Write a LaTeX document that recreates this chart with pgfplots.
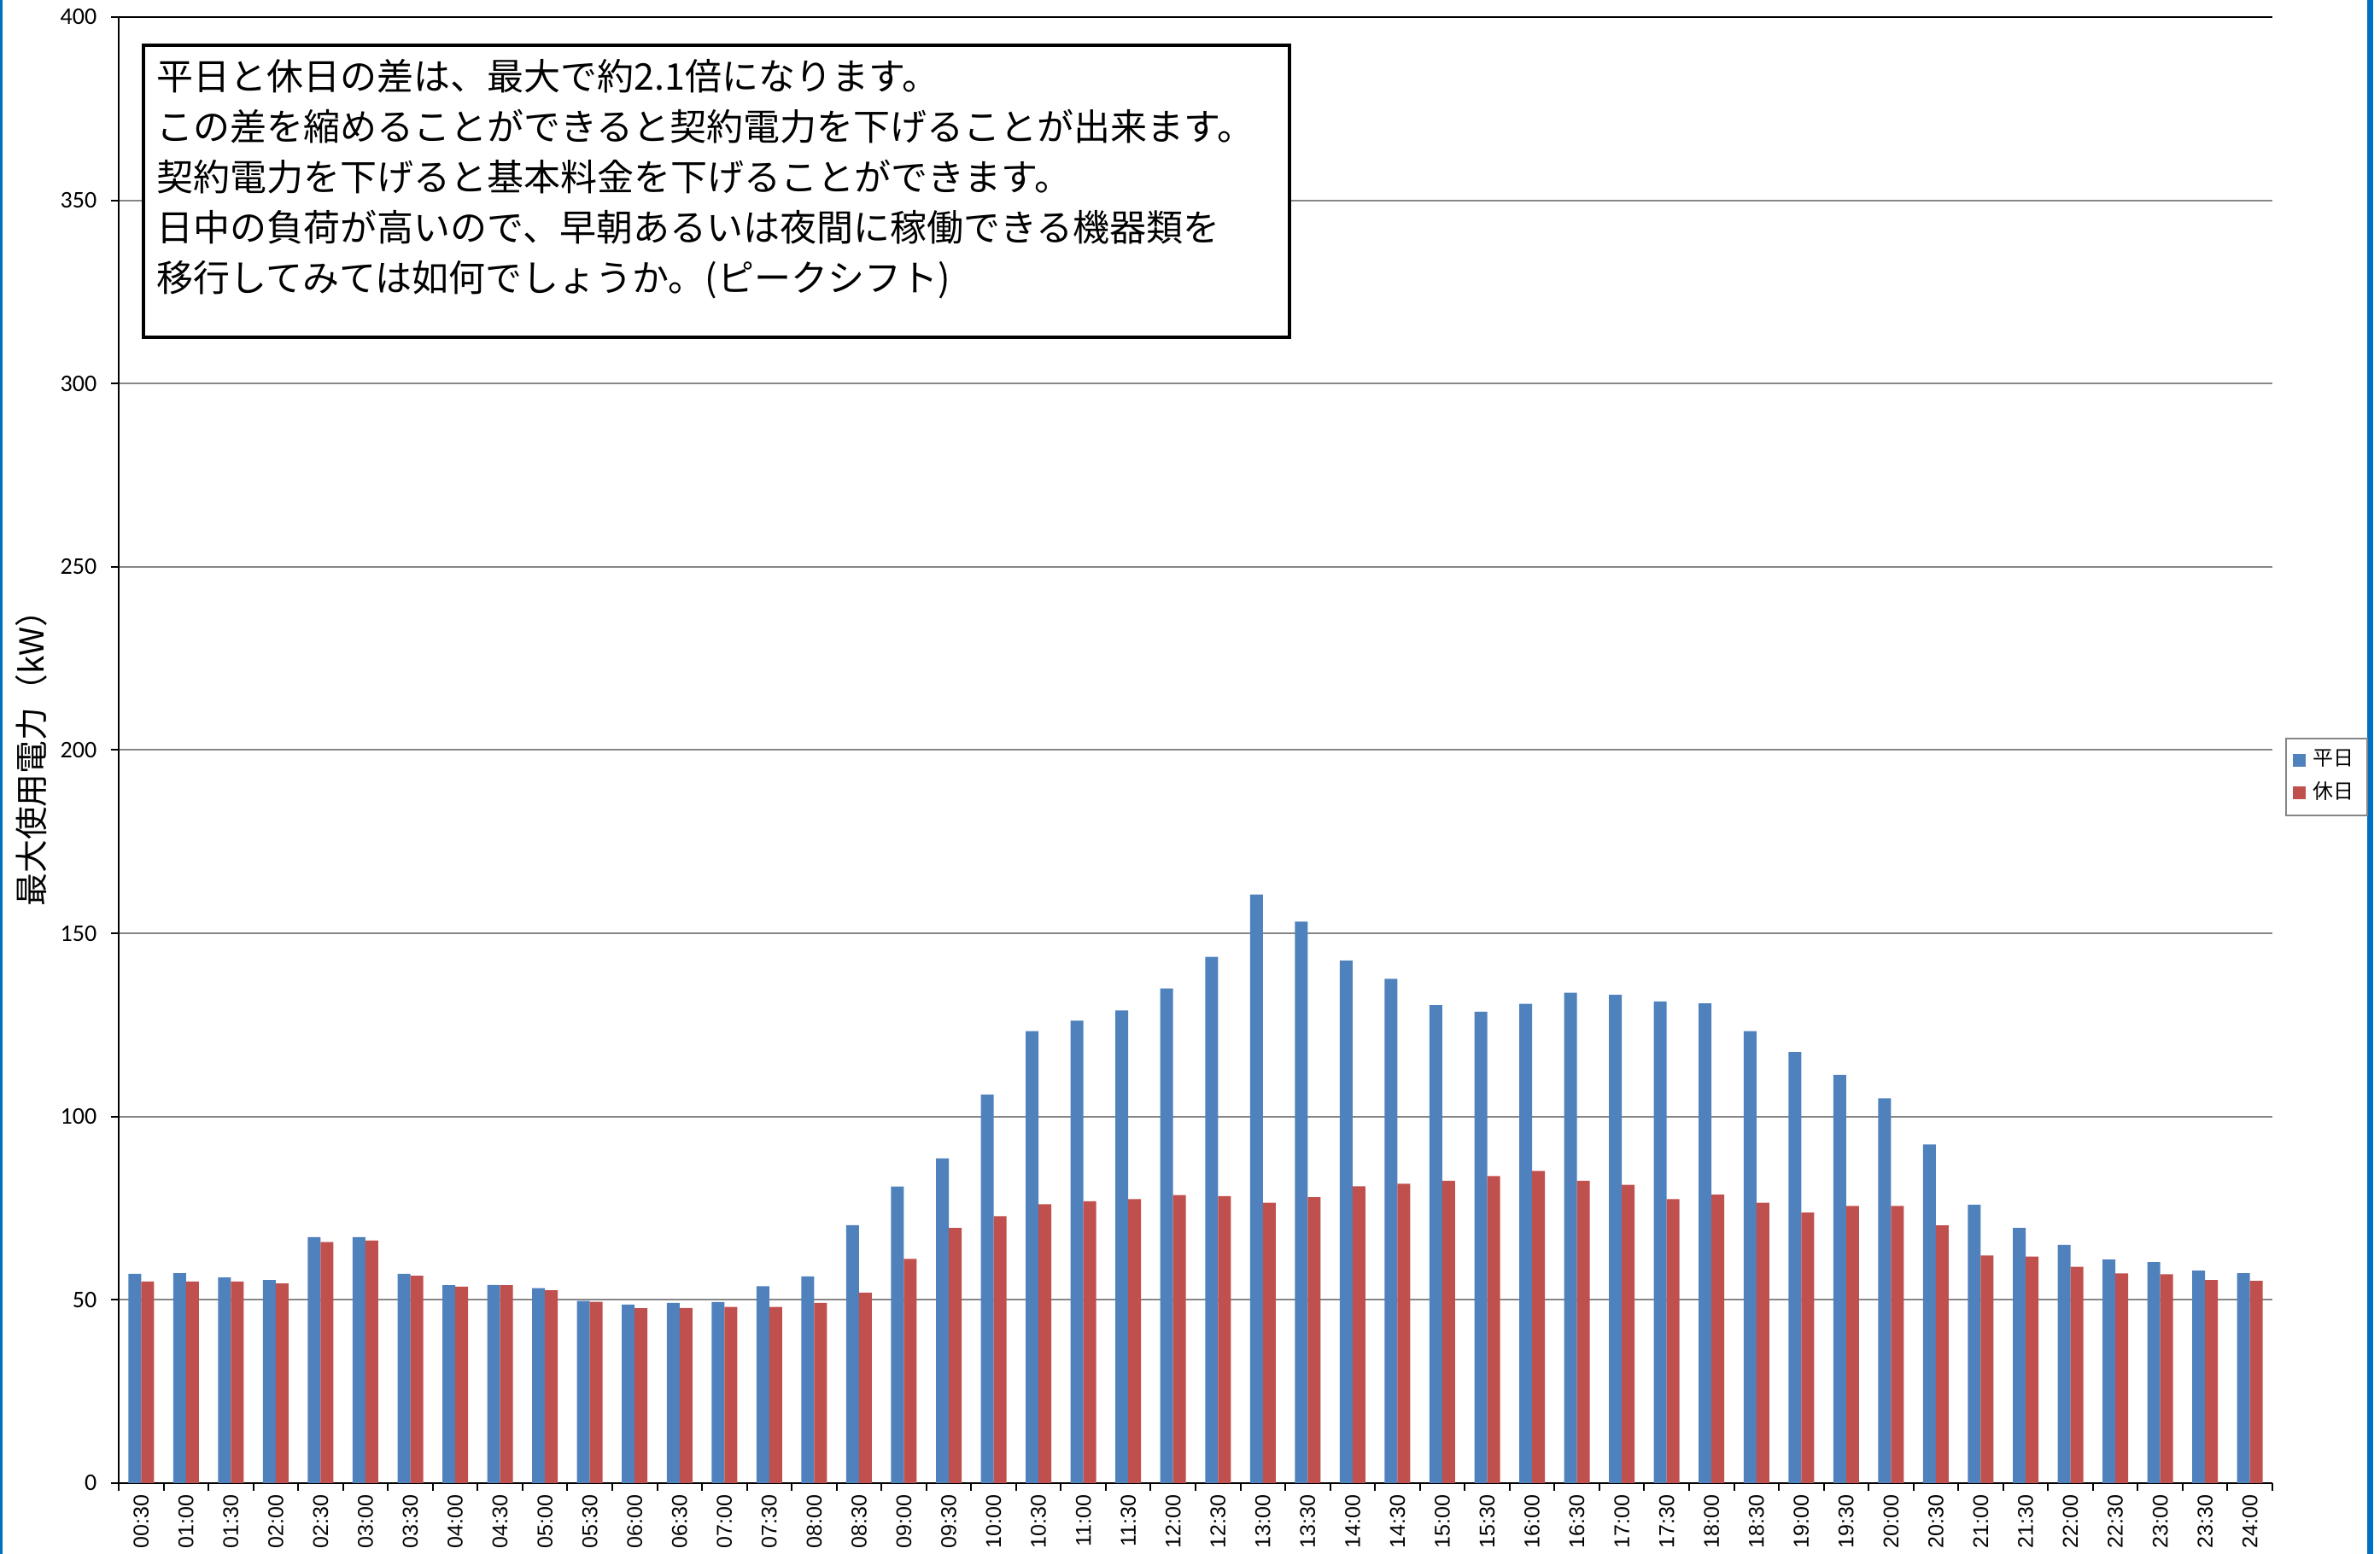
\documentclass[border=0pt]{standalone}
\usepackage{fontspec}
\setmainfont{Liberation Sans}
\newfontfamily\jp{Noto Sans CJK JP}
\newfontfamily\carlito{Carlito}
\usepackage{pgfplots}
\pgfplotsset{compat=1.18}
\usepackage{pgfplotstable}

\definecolor{xlblue}{HTML}{4F81BD}
\definecolor{xlred}{HTML}{C0504D}
\definecolor{gridgray}{HTML}{868686}
\definecolor{frameblue}{RGB}{0,112,192}

% 30-minute maximum demand, weekday / holiday (kW)
\pgfplotstableread{
idx heijitsu kyujitsu
0  57.1 55.0
1  57.3 55.0
2  56.1 55.0
3  55.4 54.5
4  67.1 65.8
5  67.1 66.2
6  57.1 56.6
7  54.0 53.6
8  54.1 54.0
9  53.2 52.6
10 49.7 49.5
11 48.7 47.7
12 49.2 47.8
13 49.4 48.1
14 53.7 48.1
15 56.4 49.2
16 70.4 52.0
17 80.9 61.2
18 88.6 69.6
19 106.0 72.8
20 123.3 76.1
21 126.2 76.9
22 129.0 77.5
23 135.0 78.6
24 143.6 78.3
25 160.6 76.5
26 153.2 78.0
27 142.6 81.0
28 137.6 81.7
29 130.4 82.5
30 128.6 83.8
31 130.8 85.2
32 133.8 82.5
33 133.2 81.4
34 131.4 77.5
35 130.9 78.7
36 123.3 76.5
37 117.6 73.8
38 111.4 75.6
39 105.0 75.6
40 92.4 70.3
41 76.0 62.1
42 69.6 61.8
43 65.0 59.0
44 61.0 57.2
45 60.3 57.0
46 58.0 55.4
47 57.3 55.2
}\loaddata

\begin{document}
\begin{tikzpicture}
\path[use as bounding box] (0,0) rectangle (696.75pt,455pt);
\fill[frameblue] (0,0) rectangle (0.75pt,455pt);
\fill[frameblue] (693pt,0) rectangle (694.75pt,455pt);

\begin{axis}[
  at={(34.75pt,20.75pt)}, anchor=south west,
  scale only axis, width=630.5pt, height=429.25pt,
  ybar=0pt, bar width=0.2855,
  xmin=-0.5, xmax=47.5, ymin=0, ymax=400,
  xtick={-0.5,0.5,...,47.5}, x tick label as interval,
  xticklabels={00:30,01:00,01:30,02:00,02:30,03:00,03:30,04:00,04:30,05:00,05:30,06:00,
    06:30,07:00,07:30,08:00,08:30,09:00,09:30,10:00,10:30,11:00,11:30,12:00,
    12:30,13:00,13:30,14:00,14:30,15:00,15:30,16:00,16:30,17:00,17:30,18:00,
    18:30,19:00,19:30,20:00,20:30,21:00,21:30,22:00,22:30,23:00,23:30,24:00},
  ytick={0,50,...,400},
  extra y ticks={400}, extra y tick labels={},
  extra y tick style={grid style={black, line width=0.5pt}},
  axis x line*=bottom, axis y line*=left,
  axis line style={black, line width=0.5pt},
  tick align=outside, major tick length=2.25pt,
  tick style={black, line width=0.5pt},
  ymajorgrids, grid style={gridgray, line width=0.5pt},
  xticklabel style={font=\fontsize{6.25}{7}\selectfont, rotate=90, anchor=east,
    inner ysep=0pt, inner xsep=1pt},
  yticklabel style={font=\carlito\fontsize{7}{8}\selectfont, anchor=east, inner sep=0pt, xshift=-4pt},
  /pgf/number format/assume math mode=true,
  ylabel={\jp 最大使用電力（kW）},
  ylabel style={at={(rel axis cs:-0.0405,0.5)}, anchor=center, font=\fontsize{9.7}{11}\selectfont},
  legend style={at={(1.006,0.4817)}, anchor=west, draw=gridgray, line width=0.5pt,
    font=\jp\fontsize{6}{7}\selectfont, inner xsep=2pt, inner ysep=1.2pt, row sep=-0.6pt},
  legend cell align=left,
]
\addplot[fill=xlblue, draw=none,
  legend image code/.code={\fill[xlblue] (0pt,-1.875pt) rectangle (3.75pt,1.875pt);}]
  table[x=idx, y=heijitsu] {\loaddata};
\addplot[fill=xlred, draw=none,
  legend image code/.code={\fill[xlred] (0pt,-1.875pt) rectangle (3.75pt,1.875pt);}]
  table[x=idx, y=kyujitsu] {\loaddata};
\legend{平日,休日}
\end{axis}

\draw[line width=1pt, fill=white] (42pt,356.25pt) rectangle (377.5pt,441.75pt);
\node[anchor=north west, inner sep=0pt, align=left, font=\jp\fontsize{10.75}{14.75}\selectfont]
  at (45.75pt,437.75pt) {平日と休日の差は、最大で約2.1倍になります。\\
  この差を縮めることができると契約電力を下げることが出来ます。\\
  契約電力を下げると基本料金を下げることができます。\\
  日中の負荷が高いので、早朝あるいは夜間に稼働できる機器類を\\
  移行してみては如何でしょうか。(ピークシフト)};
\end{tikzpicture}
\end{document}
